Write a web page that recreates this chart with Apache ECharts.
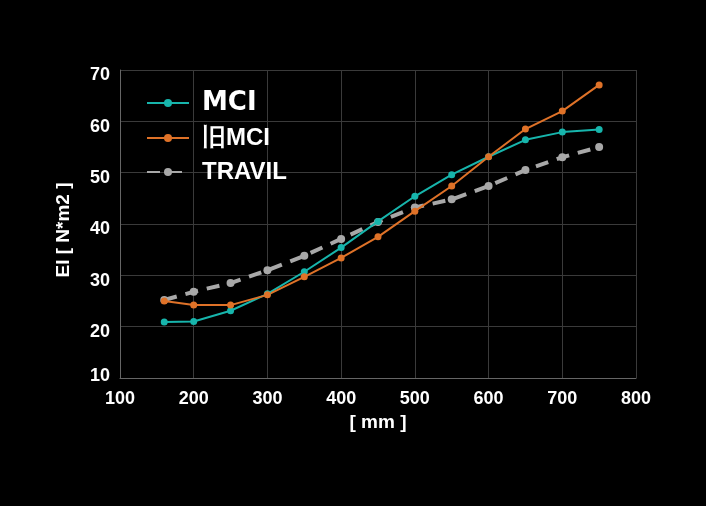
<!DOCTYPE html>
<html>
<head>
<meta charset="utf-8">
<script src="https://cdn.jsdelivr.net/npm/echarts@6/dist/echarts.min.js"></script>
<style>
  html, body { margin: 0; padding: 0; background: #000; }
  #chart { width: 706px; height: 506px; }
</style>
</head>
<body>
<div id="chart"></div>
<script>
// 横轴长度 [mm]
const lengths = [160, 200, 250, 300, 350, 400, 450, 500, 550, 600, 650, 700, 750];
// EI 数据
const mci    = [20.9, 21.0, 23.1, 26.4, 30.7, 35.4, 40.5, 45.4, 49.6, 53.1, 56.4, 57.9, 58.4];
const oldMci = [25.0, 24.2, 24.2, 26.2, 29.7, 33.4, 37.5, 42.5, 47.4, 53.1, 58.5, 62.0, 67.1];
const travil = [25.2, 26.8, 28.5, 31.0, 33.8, 37.1, 40.4, 43.2, 44.8, 47.4, 50.5, 53.0, 55.0];
const seriesNames = ['MCI', '旧MCI', 'TRAVIL'];

const pairs = arr => lengths.map((x, i) => [x, arr[i]]);

const tickFont = { color: '#fff', fontSize: 18, fontWeight: 'bold', fontFamily: 'Liberation Sans, Arial, sans-serif' };

let chart = echarts.init(document.getElementById('chart'));
chart.setOption({
    backgroundColor: '#000',
    textStyle: { fontFamily: 'Liberation Sans, Arial, sans-serif' },
    grid: { left: 120, right: 70, top: 70, bottom: 128 },
    legend: {
        data: seriesNames,
        orient: 'vertical',
        left: 141,
        top: 85,
        itemWidth: 42,
        itemHeight: 10,
        itemGap: 10,
        formatter: name => name === 'MCI' ? '{logo|MCI}' : name,
        textStyle: {
            color: '#fff', fontSize: 24, fontWeight: 'bold', padding: [0, 0, 0, 8],
            rich: { logo: { color: '#fff', fontSize: 26, fontWeight: 'bold', fontFamily: 'DejaVu Sans' } }
        }
    },
    xAxis: {
        type: 'value',
        min: 100,
        max: 800,
        interval: 100,
        name: '[ mm ]',
        nameLocation: 'middle',
        nameGap: 30,
        nameTextStyle: { color: '#fff', fontSize: 19, fontWeight: 'bold' },
        axisLine: { lineStyle: { color: '#666' } },
        axisTick: { show: false },
        axisLabel: { color: '#fff', fontSize: 18, fontWeight: 'bold', margin: 12 },
        splitLine: { show: true, lineStyle: { color: '#3a3a3a' } }
    },
    yAxis: {
        type: 'value',
        min: 10,
        max: 70,
        interval: 10,
        name: 'EI [ N*m2 ]',
        nameLocation: 'middle',
        nameGap: 47,
        nameRotate: 90,
        nameTextStyle: { color: '#fff', fontSize: 19, fontWeight: 'bold', padding: [0, 12, 0, 0] },
        axisLine: { show: true, lineStyle: { color: '#666' } },
        axisTick: { show: false },
        axisLabel: {
            color: '#fff', fontSize: 18, fontWeight: 'bold', margin: 10,
            formatter: v => v === 10 ? '{low|' + v + '}' : '{n|' + v + '}',
            rich: {
                n: Object.assign({ padding: [11, 0, 0, 0] }, tickFont),
                low: Object.assign({ padding: [0, 0, 3, 0] }, tickFont)
            }
        },
        splitLine: { show: true, lineStyle: { color: '#3a3a3a' } }
    },
    series: [
        {
            name: seriesNames[0],
            type: 'line',
            data: pairs(mci),
            symbol: 'circle',
            symbolSize: 7,
            itemStyle: { color: '#17b5ac' },
            lineStyle: { width: 2 }
        },
        {
            name: seriesNames[1],
            type: 'line',
            data: pairs(oldMci),
            symbol: 'circle',
            symbolSize: 7,
            itemStyle: { color: '#df7228' },
            lineStyle: { width: 2 }
        },
        {
            name: seriesNames[2],
            type: 'line',
            data: pairs(travil),
            symbol: 'circle',
            symbolSize: 8,
            z: 1,
            itemStyle: { color: '#a8a8a8' },
            lineStyle: { width: 4, type: [13, 9] }
        }
    ]
});
</script>
</body>
</html>
